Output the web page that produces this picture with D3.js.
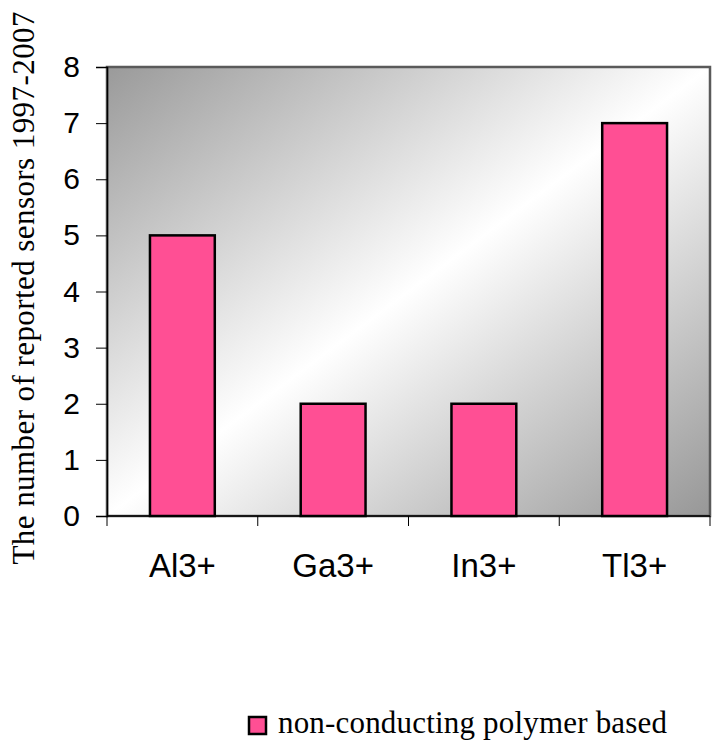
<!DOCTYPE html>
<html>
<head>
<meta charset="utf-8">
<script src="https://cdn.jsdelivr.net/npm/d3@7"></script>
<style>
body{margin:0;background:#fff;}
</style>
</head>
<body>
<div id="chart"></div>
<script>
// data
var categories=['Al3+','Ga3+','In3+','Tl3+'];
var counts=[5,2,2,7];
var yTicks=[0,1,2,3,4,5,6,7,8];
var seriesName='non-conducting polymer based';
var yTitle='The number of reported sensors 1997-2007';

var W=724,H=752;
var m={left:107,top:67,right:14,bottom:236};
var pw=W-m.left-m.right, ph=H-m.top-m.bottom;

var svg=d3.select('#chart').append('svg').attr('width',W).attr('height',H);

var defs=svg.append('defs');
var grad=defs.append('linearGradient').attr('id','bg')
	.attr('x1',0).attr('y1',0).attr('x2',1).attr('y2',1);
grad.append('stop').attr('offset','0%').attr('stop-color','#9a9a9a');
grad.append('stop').attr('offset','50%').attr('stop-color','#ffffff');
grad.append('stop').attr('offset','100%').attr('stop-color','#979797');

var x=d3.scaleBand().domain(categories).range([0,pw]).paddingInner(0.57).paddingOuter(0.285);
var xb=d3.scaleBand().domain(categories).range([0,pw]);
var y=d3.scaleLinear().domain([0,8]).range([ph,0]);

var g=svg.append('g').attr('transform','translate('+m.left+','+m.top+')');

g.append('rect').attr('width',pw).attr('height',ph)
	.attr('fill','url(#bg)').attr('stroke','#5a5a5a').attr('stroke-width',2.5);

g.selectAll('rect.bar').data(counts).enter().append('rect')
	.attr('class','bar')
	.attr('x',function(d,i){return x(categories[i]);})
	.attr('y',function(d){return y(d);})
	.attr('width',x.bandwidth())
	.attr('height',function(d){return ph-y(d);})
	.attr('fill','#ff4f94').attr('stroke','#000').attr('stroke-width',2.5);

// y axis
var ya=g.append('g').call(d3.axisLeft(y).tickValues(yTicks).tickSize(11).tickPadding(16).tickFormat(d3.format('d')));
ya.select('.domain').attr('stroke','#000').attr('stroke-width',1.5);
ya.selectAll('.tick line').attr('stroke','#000');
ya.selectAll('text').attr('font-family','Liberation Sans, Arial, sans-serif').attr('font-size',30).attr('fill','#000');

// x axis with ticks at band boundaries
var xa=g.append('g').attr('transform','translate(0,'+ph+')');
xa.append('line').attr('x1',0).attr('x2',pw).attr('stroke','#000').attr('stroke-width',1.5);
xa.selectAll('line.tk').data(d3.range(categories.length+1)).enter().append('line')
	.attr('class','tk')
	.attr('x1',function(i){return i*xb.step();}).attr('x2',function(i){return i*xb.step();})
	.attr('y1',0).attr('y2',10).attr('stroke','#000');
xa.selectAll('text').data(categories).enter().append('text')
	.attr('x',function(d){return xb(d)+xb.bandwidth()/2;})
	.attr('y',61)
	.attr('text-anchor','middle')
	.attr('font-family','Liberation Sans, Arial, sans-serif').attr('font-size',33)
	.text(function(d){return d;});

// y title
svg.append('text')
	.attr('transform','translate(34,288) rotate(-90)')
	.attr('text-anchor','middle')
	.attr('font-family','Liberation Serif, Times New Roman, serif').attr('font-size',31)
	.attr('textLength',553).attr('lengthAdjust','spacing')
	.text(yTitle);

// legend
var lg=svg.append('g').attr('transform','translate(249,717)');
lg.append('rect').attr('width',17).attr('height',17).attr('fill','#ff4f94').attr('stroke','#000').attr('stroke-width',2.5);
lg.append('text').attr('x',29).attr('y',16)
	.attr('font-family','Liberation Serif, Times New Roman, serif').attr('font-size',31)
	.attr('textLength',389).attr('lengthAdjust','spacing')
	.text(seriesName);
</script>
</body>
</html>
